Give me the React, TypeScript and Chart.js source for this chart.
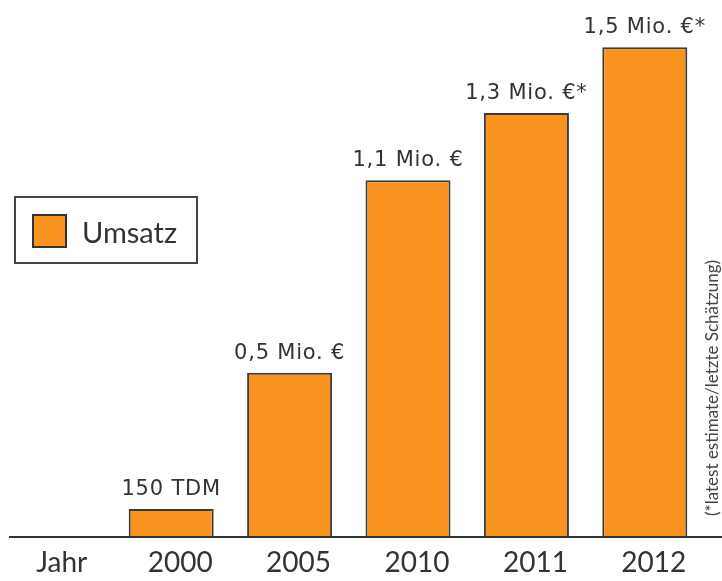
import React, { useEffect, useRef } from "react";
import { Chart, registerables } from "chart.js";

Chart.register(...registerables);

const years = ["2000", "2005", "2010", "2011", "2012"];
const umsatz = [0.085, 0.5, 1.085, 1.29, 1.49];
const barLabels = ["150 TDM", "0,5 Mio. €", "1,1 Mio. €", "1,3 Mio. €*", "1,5 Mio. €*"];
const axisTitle = "Jahr";
const seriesName = "Umsatz";
const footnote = "(*latest estimate/letzte Schätzung)";

const ORANGE = "#F7931E";
const DARK = "#333333";

const customPlugin = {
  id: "customDraw",
  afterDraw(chart: any) {
    const ctx = chart.ctx;
    const xs = chart.scales.x;
    const area = chart.chartArea;
    const meta = chart.getDatasetMeta(0);
    ctx.save();
    // axis line
    ctx.strokeStyle = DARK;
    ctx.lineWidth = 2;
    ctx.beginPath();
    ctx.moveTo(9, area.bottom);
    ctx.lineTo(chart.width, area.bottom);
    ctx.stroke();

    // bar labels
    ctx.fillStyle = DARK;
    ctx.font = "21px 'DejaVu Sans'";
    (ctx as any).letterSpacing = "0.8px";
    ctx.textAlign = "center";
    ctx.textBaseline = "alphabetic";
    meta.data.forEach((bar: any, i: number) => {
      ctx.fillText(barLabels[i], bar.x, bar.y - 14);
    });
    (ctx as any).letterSpacing = "0px";

    // "Jahr" label, one category step left of the first tick label
    const step = xs.getPixelForValue(1) - xs.getPixelForValue(0);
    const items = xs.getLabelItems ? xs.getLabelItems() : xs._labelItems;
    const first = items && items[0];
    ctx.font = "28px Lato";
    ctx.textAlign = "center";
    if (first) {
      const [tx, ty] = first.options.translation;
      ctx.textBaseline = first.options.textBaseline;
      ctx.fillText(axisTitle, tx - step, ty + (first.textOffset || 0));
    }

    // legend
    ctx.lineWidth = 2;
    ctx.strokeStyle = "#444444";
    ctx.strokeRect(15, 197, 182, 66);
    ctx.fillStyle = ORANGE;
    ctx.fillRect(33, 215, 33, 32);
    ctx.strokeStyle = DARK;
    ctx.strokeRect(33, 215, 33, 32);
    ctx.fillStyle = DARK;
    ctx.font = "29px Lato";
    ctx.textAlign = "left";
    ctx.textBaseline = "alphabetic";
    ctx.fillText(seriesName, 82, 243);

    // footnote vertical
    ctx.translate(713, 388);
    ctx.rotate(-Math.PI / 2);
    ctx.font = "17px Lato";
    ctx.fillStyle = "#444444";
    ctx.textAlign = "center";
    ctx.textBaseline = "middle";
    ctx.fillText(footnote, 0, 0);
    ctx.restore();
  },
};

export default function App() {
  const ref = useRef<HTMLCanvasElement>(null);
  useEffect(() => {
    if (!ref.current) return;
    const chart = new Chart(ref.current, {
      type: "bar",
      data: {
        labels: years,
        datasets: [
          {
            label: seriesName,
            data: umsatz,
            backgroundColor: ORANGE,
            borderColor: "#3b3b3b",
            borderWidth: 2,
            barPercentage: 0.718,
            categoryPercentage: 1,
          },
        ],
      },
      options: {
        responsive: false,
        animation: false,
        layout: { padding: { top: 11, right: 18, left: 112, bottom: 0 } },
        plugins: {
          legend: { display: false },
          tooltip: { enabled: false },
          title: { display: false },
        },
        scales: {
          x: {
            grid: { display: false, drawTicks: false },
            border: { display: false },
            ticks: {
              font: { family: "Lato", size: 28 },
              color: DARK,
              padding: 9,
              labelOffset: 9,
              maxRotation: 0,
            },
            afterFit: (scale: any) => {
              scale.height = 44;
            },
          },
          y: {
            display: false,
            min: 0,
            max: 1.6,
          },
        },
      },
      plugins: [customPlugin],
    });
    return () => chart.destroy();
  }, []);
  return (
    <div style={{ position: "absolute", left: 0, top: 0, width: 722, height: 581 }}>
      <canvas ref={ref} width={722} height={581} />
    </div>
  );
}
